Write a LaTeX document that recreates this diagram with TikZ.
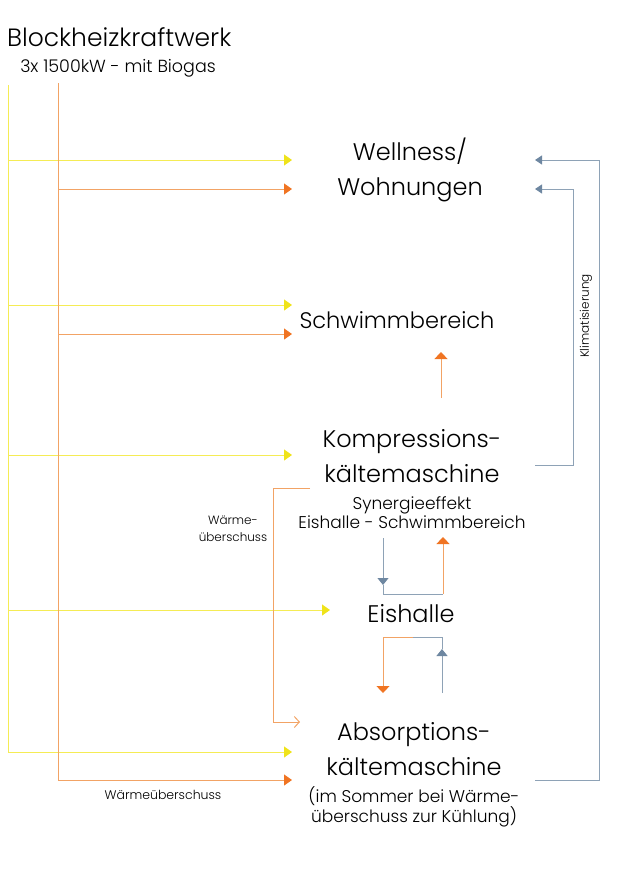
\documentclass[tikz,border=0pt]{standalone}
\usepackage{fontspec}
\setmainfont{Poppins Light}
\usetikzlibrary{arrows.meta}
\definecolor{ylw}{HTML}{F5EC55}
\definecolor{ylwh}{HTML}{EFE31A}
\definecolor{org}{HTML}{F2A365}
\definecolor{orgh}{HTML}{F07422}
\definecolor{blu}{HTML}{8EA2B6}
\definecolor{bluh}{HTML}{6E87A1}
\begin{document}
\begin{tikzpicture}[x=1pt,y=-1pt,
  yl/.style={draw=ylw, line width=1pt},
  ol/.style={draw=org, line width=1pt},
  bl/.style={draw=blu, line width=1pt},
  yarr/.style={yl, -{Triangle[length=8pt,width=11pt,fill=ylwh,color=ylwh]}},
  oarr/.style={ol, -{Triangle[length=8pt,width=11pt,fill=orgh,color=orgh]}},
  ouparr/.style={ol, -{Triangle[length=7pt,width=13pt,fill=orgh,color=orgh]}},
  barr/.style={bl, -{Triangle[length=7pt,width=11pt,fill=bluh,color=bluh]}},
  bkarr/.style={bl, -{Triangle[length=7pt,width=9pt,fill=bluh,color=bluh]}},
  big/.style={font=\fontsize{24}{35}\selectfont, align=center, inner sep=0pt},
  mid/.style={font=\fontsize{17}{19}\selectfont, align=center, inner sep=0pt},
  small/.style={font=\fontsize{12}{17}\selectfont, align=center, inner sep=0pt}
]
\useasboundingbox (0,0) rectangle (634,887);
% texts
\node[font=\fontsize{25}{28}\selectfont, anchor=west, inner sep=0pt] (title) at (7,37) {Blockheizkraftwerk};
\node[font=\fontsize{17.5}{19}\selectfont, inner sep=0pt] (sub) at (118,68) {3x 1500kW - mit Biogas};
\node[big] (well) at (410,170) {Wellness/\\Wohnungen};
\node[big, font=\fontsize{22.5}{30}\selectfont] (schwimm) at (397,320) {Schwimmbereich};
\node[big] (kompr) at (412,456) {Kompressions-\\kältemaschine};
\node[mid] (syn) at (412,513) {Synergieeffekt\\Eishalle - Schwimmbereich};
\node[big] (eis) at (411,614) {Eishalle};
\node[big] (abs) at (414,749) {Absorptions-\\kältemaschine};
\node[mid, font=\fontsize{17}{18}\selectfont] (absnote) at (414,807) {(im Sommer bei Wärme-\\überschuss zur Kühlung)};
\node[small] (wue) at (233,529) {Wärme-\\überschuss};
\node[small, font=\fontsize{12.5}{14}\selectfont] (wue2) at (163,795) {Wärmeüberschuss};
\node[font=\fontsize{12}{13}\selectfont, rotate=90, inner sep=0pt] (klima) at (586,316) {Klimatisierung};
% bus coordinates
\coordinate (ytop) at (8,85);
\coordinate (otop) at (58,83);
\coordinate (yw) at (292,160);
\coordinate (ow) at (292,189);
\coordinate (ys) at (292,305);
\coordinate (os) at (292,334);
\coordinate (yk) at (292,455);
\coordinate (ye) at (330,610);
\coordinate (ya) at (292,752);
\coordinate (oa) at (292,780);
% yellow bus
\draw[yl] (ytop) -- (ytop |- ya);
\draw[yarr] (ytop |- yw) -- (yw);
\draw[yarr] (ytop |- ys) -- (ys);
\draw[yarr] (ytop |- yk) -- (yk);
\draw[yarr] (ytop |- ye) -- (ye);
\draw[yarr] (ytop |- ya) -- (ya);
% orange bus
\draw[ol] (otop) -- (otop |- oa);
\draw[oarr] (otop |- ow) -- (ow);
\draw[oarr] (otop |- os) -- (os);
\draw[oarr] (otop |- oa) -- (oa);
% Waermeueberschuss bracket
\coordinate (wb1) at (310,488);
\coordinate (wb2) at (300,722);
\draw[ol, -{Straight Barb[length=5pt,width=11pt]}] (wb1) -- (273,488) -- (273,722) -- (wb2);
% up arrow to Schwimmbereich
\coordinate (up1) at (441,398);
\coordinate (up2) at (441,352);
\draw[ouparr] (up1) -- (up2);
% synergy
\coordinate (s1) at (383,538);
\coordinate (s2) at (383,585);
\coordinate (s3) at (443,594);
\coordinate (s4) at (443,537);
\draw[barr] (s1) -- (s2);
\draw[bl] (s2) -- (s2 |- s3) -- (s3);
\draw[ouparr] (s3) -- (s4);
% Eishalle - Absorption
\coordinate (e1) at (413,637);
\coordinate (e2) at (383,693);
\coordinate (e3) at (442,693);
\coordinate (e4) at (442,649);
\draw[ouparr] (e1) -- (e2 |- e1) -- (e2);
\draw[barr] (e3) -- (e4);
\draw[bl] (e4) -- (e4 |- e1) -- (e1);
% Klimatisierung
\coordinate (k1) at (535,465);
\coordinate (k2) at (535,189);
\coordinate (k3) at (535,780);
\coordinate (k4) at (535,160);
\draw[bkarr] (k1) -- (573,465) -- (573,189) -- (k2);
\draw[bkarr] (k3) -- (599,780) -- (599,160) -- (k4);
\end{tikzpicture}
\end{document}
